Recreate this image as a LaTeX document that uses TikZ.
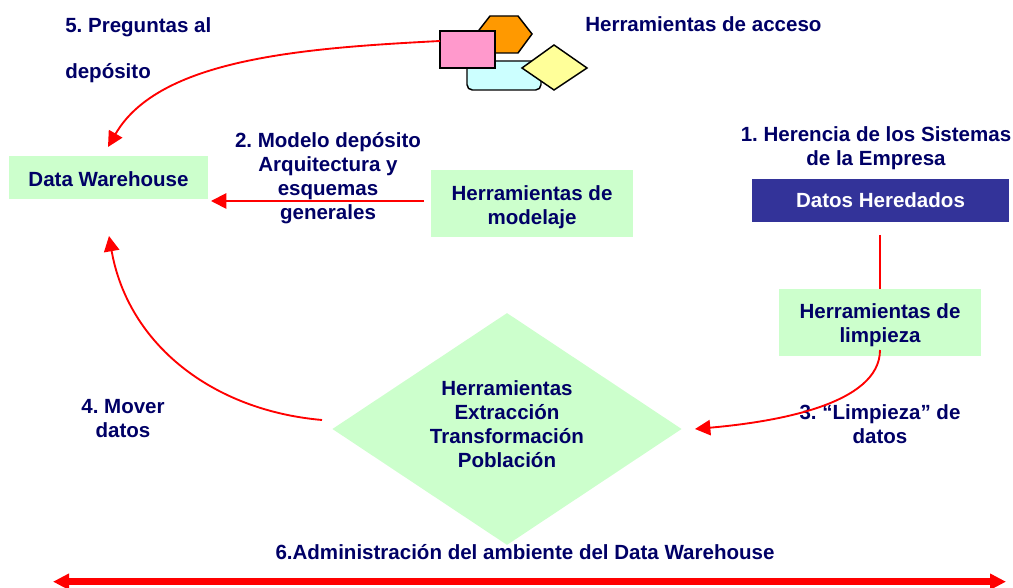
\documentclass[tikz,border=0pt]{standalone}
\usepackage{fontspec}
\setmainfont{Liberation Sans}
\usetikzlibrary{arrows.meta,shapes.geometric}
\definecolor{navytext}{HTML}{000066}
\definecolor{palegreen}{HTML}{CCFFCC}
\definecolor{darkblue}{HTML}{333399}
\definecolor{toolorange}{HTML}{FF9900}
\definecolor{toolcyan}{HTML}{CCFFFF}
\definecolor{toolyellow}{HTML}{FFFF99}
\definecolor{toolpink}{HTML}{FF99CC}
\frenchspacing

\begin{document}
\begin{tikzpicture}[x=0.75pt,y=0.75pt,>={Triangle[length=11.5pt,width=11.5pt]},
                    font=\fontsize{15.4}{18}\selectfont\bfseries,
                    main node/.style={fill=palegreen,text=navytext,align=center,inner sep=0pt},
                    label node/.style={text=navytext,align=center,inner sep=0pt},
                    flow/.style={red,line width=1.4pt},
                    tool/.style={draw=black,line width=1.1pt}]
  \useasboundingbox (0,0) rectangle (1013,588);

  % herramientas de acceso
  \draw[tool,fill=toolorange] (490,572) -- (518,572) -- (532,554) -- (518,535) -- (490,535) -- (476,554) -- cycle;
  \draw[tool,fill=toolcyan,rounded corners=4pt] (467,527) rectangle (541,498);
  \draw[tool,fill=toolyellow] (522,520) -- (554,543) -- (587,520) -- (554,498) -- cycle;
  \node[tool,fill=toolpink,minimum width=41pt,minimum height=28pt,inner sep=0pt] (access) at (467.5,538.5) {};

  \node[main node,minimum width=149pt,minimum height=32pt] (dw) at (108.5,410.5) {\rule{0pt}{14pt}Data Warehouse};
  \node[main node,minimum width=151pt,minimum height=50pt] (model) at (532,384.5) {\rule{0pt}{16pt}Herramientas de\\modelaje};
  \node[fill=darkblue,text=white,inner sep=0pt,minimum width=193pt,minimum height=32pt] (legacy) at (880.5,387.5) {Datos Heredados};
  \node[main node,minimum width=151pt,minimum height=50pt] (clean) at (880,265.5) {\rule{0pt}{15pt}Herramientas de\\limpieza};
  \node[main node,shape=diamond,minimum width=262pt,minimum height=174pt] (etl) at (507,159) {};
  \node[label node] (etl text) at (507,164) {Herramientas\\Extracción\\Transformación\\Población};

  \node[label node] (t1) at (876,440) {1. Herencia de los Sistemas\\de la Empresa};
  \node[label node] (t2) at (328,410) {2. Modelo depósito\\Arquitectura y\\esquemas\\generales};
  \node[label node] (t3) at (880,164) {3. “Limpieza” de\\datos};
  \node[label node] (t4) at (123,169) {4. Mover\\datos};
  \node[label node,align=left,anchor=north west] (t5) at (65,571) {5. Preguntas al\\[17pt]depósito};
  \node[label node,anchor=west] (t7) at (585,564) {Herramientas de acceso};
  \node[label node] (t6) at (525,36) {6.Administración del ambiente del Data Warehouse};

  \coordinate (access w) at (440,547);
  \coordinate (dw top) at (108,441);
  \coordinate (dw bottom) at (109,352);
  \coordinate (model out) at (424,387);
  \coordinate (dw in) at (211,387);
  \coordinate (legacy out) at (880,353);
  \coordinate (clean start) at (880,238);
  \coordinate (etl in) at (695,159);
  \coordinate (etl out) at (322,168);
  \coordinate (bar left) at (53,6.3);
  \coordinate (bar right) at (1006,6.3);

  \path[flow]
    (access w) edge [->,out=183,in=60,in looseness=.75] (dw top)
    (model out) edge [->] (dw in)
    (legacy out) edge (clean.north)
    (clean start) edge [->,out=270,in=5,out looseness=.7] (etl in)
    (etl out) edge [->,out=175,in=-80] (dw bottom)
    ;
  \draw[red,line width=5.5pt,{Triangle[length=12pt,width=11.5pt]}-{Triangle[length=12pt,width=11.5pt]}] (bar left) -- (bar right);
\end{tikzpicture}
\end{document}
